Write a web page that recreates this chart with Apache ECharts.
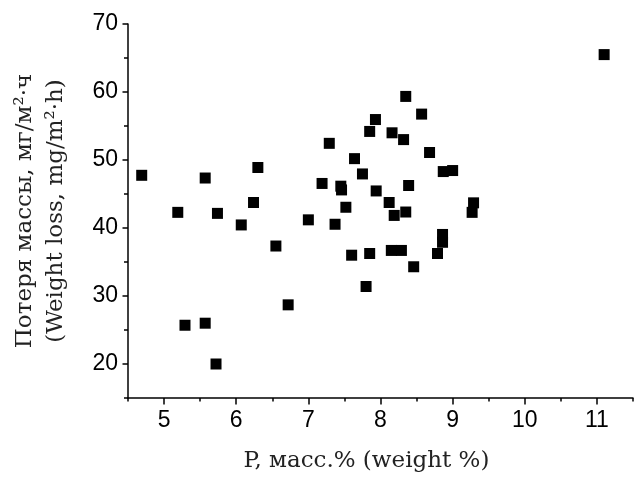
<!DOCTYPE html>
<html>
<head>
<meta charset="utf-8">
<script src="https://cdn.jsdelivr.net/npm/echarts@6/dist/echarts.min.js"></script>
<style>html,body{margin:0;padding:0;background:#fff}#c{width:638px;height:479px}</style>
</head>
<body>
<div id="c"></div>
<script>
// P, weight %
var phosphorus = [4.69, 5.19, 5.57, 5.74, 5.29, 5.57, 5.72, 6.07, 6.24, 6.30,
  6.55, 6.72, 7.00, 7.19, 7.29, 7.37, 7.45, 7.46, 7.52, 7.60,
  7.64, 7.75, 7.80, 7.85, 7.85, 7.93, 7.94, 8.12, 8.16, 8.19,
  8.15, 8.29, 8.32, 8.35, 8.35, 8.39, 8.46, 8.57, 8.68, 8.79,
  8.86, 8.86, 8.87, 9.00, 9.29, 9.27, 11.10];
// Weight loss, mg/m2.h
var weightLoss = [47.75, 42.3, 47.35, 42.15, 25.7, 26.0, 20.0, 40.45, 43.75, 48.9,
  37.35, 28.7, 41.2, 46.55, 52.45, 40.55, 46.15, 45.6, 43.05, 36.0,
  50.2, 47.95, 31.4, 36.25, 54.2, 55.95, 45.45, 43.75, 54.0, 41.85,
  36.7, 36.7, 53.0, 59.35, 42.35, 46.25, 34.3, 56.75, 51.1, 36.25,
  39.05, 37.9, 48.3, 48.45, 43.7, 42.3, 65.5];
var xTickLabels = [5, 6, 7, 8, 9, 10, 11];
var yTickLabels = [20, 30, 40, 50, 60, 70];
var xName = 'P, масс.% (weight %)';
var yName = 'Потеря массы, мг/м²·ч\n(Weight loss, mg/m²·h)';

var X_MIN = 4.5, X_MAX = 11.5, X_STEP = 0.5;
var Y_MIN = 15, Y_MAX = 70, Y_STEP = 5;

var points = phosphorus.map(function (x, i) { return [x, weightLoss[i]]; });

// tick positions (all, minor + major) for the overlay axes that draw the longer major ticks
function steps(a, b, s) { var r = []; for (var v = a; v <= b + 1e-9; v += s) r.push(String(Math.round(v * 10) / 10)); return r; }
var xTickCats = steps(X_MIN, X_MAX, X_STEP);
var yTickCats = steps(Y_MIN, Y_MAX, Y_STEP);

var lineCol = '#000';
var chart = echarts.init(document.getElementById('c'), null, {renderer: 'canvas'});
chart.setOption({
  animation: false,
  backgroundColor: '#fff',
  grid: {left: 128, right: 5, top: 24, bottom: 81, containLabel: false},
  xAxis: [{
    type: 'value', min: X_MIN, max: X_MAX, interval: X_STEP,
    name: xName, nameLocation: 'middle', nameGap: 52,
    nameTextStyle: {fontFamily: 'DejaVu Serif', fontSize: 23, color: '#222', padding: [0, 28, 0, 0]},
    axisLine: {show: true, lineStyle: {color: lineCol, width: 1.5}},
    axisTick: {show: true, inside: false, length: 3.5, lineStyle: {color: lineCol, width: 1.5}},
    axisLabel: {
      margin: 11, fontFamily: 'Liberation Sans', fontSize: 23, color: '#000',
      formatter: function (v) { return xTickLabels.indexOf(v) >= 0 ? String(v) : ''; }
    },
    splitLine: {show: false}
  }, {
    type: 'category', position: 'bottom', boundaryGap: false, data: xTickCats,
    axisLine: {show: false},
    axisTick: {show: true, length: 6.5, lineStyle: {color: lineCol, width: 1.5},
      interval: function (i, v) { return xTickLabels.indexOf(Number(v)) >= 0; }},
    axisLabel: {show: false},
    splitLine: {show: false}
  }],
  yAxis: [{
    type: 'value', min: Y_MIN, max: Y_MAX, interval: Y_STEP,
    name: yName, nameLocation: 'middle', nameRotate: 90, nameGap: 56,
    nameTextStyle: {fontFamily: 'DejaVu Serif', fontSize: 23, color: '#222', lineHeight: 31, align: 'center'},
    axisLine: {show: true, lineStyle: {color: lineCol, width: 1.5}},
    axisTick: {show: true, inside: false, length: 4, lineStyle: {color: lineCol, width: 1.5}},
    axisLabel: {
      margin: 10, fontFamily: 'Liberation Sans', fontSize: 23, color: '#000',
      formatter: function (v) { return yTickLabels.indexOf(v) >= 0 ? String(v) : ''; }
    },
    splitLine: {show: false}
  }, {
    type: 'category', position: 'left', boundaryGap: false, data: yTickCats,
    axisLine: {show: false},
    axisTick: {show: true, length: 5.5, lineStyle: {color: lineCol, width: 1.5},
      interval: function (i, v) { return yTickLabels.indexOf(Number(v)) >= 0; }},
    axisLabel: {show: false},
    splitLine: {show: false}
  }],
  series: [{
    type: 'scatter',
    xAxisIndex: 0, yAxisIndex: 0,
    data: points,
    symbol: 'rect',
    symbolSize: 11,
    itemStyle: {color: '#000', opacity: 1}
  }]
});
</script>
</body>
</html>
